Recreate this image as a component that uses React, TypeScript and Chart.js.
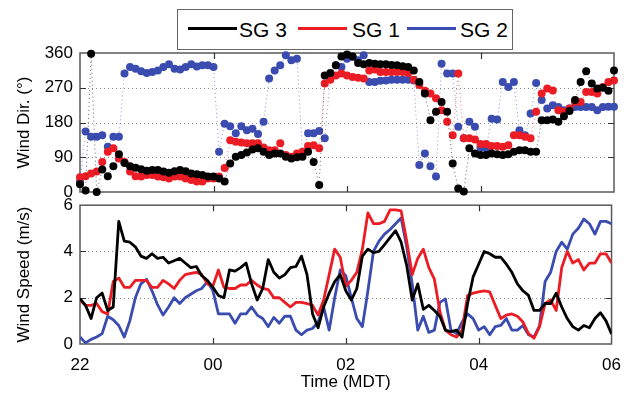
import React, { useEffect, useRef } from "react";
import { Chart, registerables } from "chart.js";

Chart.register(...registerables);

// ---------- data ----------
const STEP_MIN = 5; // sampling interval, minutes after 22:00 MDT
const X_TICK_LABELS = ["22", "00", "02", "04", "06"];
const SERIES_NAMES = ["SG 3", "SG 1", "SG 2"];
const SERIES_COLORS = ["#000000", "#ec1c24", "#3a4cb0"];
const DIR_TICKS = [0, 90, 180, 270, 360];
const SPEED_TICKS = [0, 2, 4, 6];

// Wind direction (deg)
const dirSG3 = [
  20, 4, 358, 0, 58, 41, 67, 98, 75, 67, 63, 59, 55, 57, 57, 53, 50, 54, 57, 54,
  48, 46, 44, 40, 40, 35, 27, 74, 91, 96, 102, 110, 113, 104, 96, 100, 100, 91, 87, 90,
  91, 104, 78, 18, 302, 308, 328, 351, 356, 351, 334, 331, 334, 332, 331, 331, 329, 328, 326, 324,
  315, 285, 255, 186, 208, 233, 208, 74, 9, 1, 113, 100, 96, 96, 100, 98, 96, 98, 104, 108,
  108, 104, 104, 186, 186, 188, 182, 196, 210, 238, 285, 313, 281, 268, 270, 262, 315,
];
const dirSG1 = [
  38, 41, 48, 53, 78, 104, 113, 87, 78, 53, 41, 40, 44, 44, 40, 38, 35, 40, 40, 35,
  31, 27, 27, 35, 35, 40, 62, 134, 130, 128, 126, 126, 126, 115, 108, 108, 126, 96, 91, 100,
  104, 119, 121, 113, 281, 291, 302, 307, 302, 298, 296, 294, 315, 317, 311, 311, 311, 311, 311, 308,
  291, 277, 262, 255, 243, 212, 182, 147, 307, 139, 139, 136, 124, 124, 119, 119, 117, 121, 147, 147,
  143, 139, 208, 255, 268, 263, 212, 208, 216, 233, 233, 259, 259, 255, 272, 285, 289,
];
const dirSG2 = [
  27, 157, 143, 143, 147, 117, 143, 143, 307, 324, 319, 313, 308, 311, 315, 324, 331, 319, 317, 324,
  331, 325, 328, 328, 324, 104, 177, 170, 152, 170, 160, 164, 150, 182, 294, 315, 328, 354, 341, 345,
  100, 152, 152, 158, 139, 298, 328, 324, 345, 350, 341, 354, 285, 285, 288, 289, 291, 291, 291, 291,
  289, 70, 100, 67, 40, 332, 307, 307, 169, 139, 182, 169, 115, 113, 190, 188, 285, 272, 285, 160,
  147, 203, 282, 238, 216, 225, 220, 212, 216, 220, 220, 220, 220, 212, 220, 221, 221,
];

// Wind speed (m/s)
const spdSG3 = [
  1.96, 1.67, 1.1, 2.0, 2.2, 1.45, 1.6, 5.3, 4.45, 4.4, 4.2, 3.8, 3.7, 3.9, 3.7, 3.75, 3.5, 3.6, 3.7, 3.5,
  3.3, 3.35, 2.95, 2.75, 2.45, 2.1, 2.0, 3.2, 3.15, 3.3, 3.5, 2.6, 1.9, 2.4, 3.65, 3.1, 2.85, 3.0, 3.3, 3.35,
  3.8, 3.0, 1.3, 0.7, 1.6, 2.2, 2.7, 3.0, 2.3, 1.9, 2.4, 3.8, 4.1, 3.95, 4.0, 4.3, 4.6, 4.9, 4.4, 3.4,
  1.9, 2.6, 1.5, 1.67, 1.45, 1.2, 0.6, 0.53, 0.6, 0.3, 1.75, 2.9, 3.45, 4.0, 3.9, 3.75, 3.75, 3.45, 3.1, 2.6,
  2.3, 2.1, 1.45, 1.45, 1.75, 1.75, 2.2, 1.6, 1.1, 0.75, 0.6, 0.8, 0.7, 1.1, 1.35, 1.0, 0.43,
];
const spdSG1 = [
  1.9, 1.67, 1.67, 1.75, 1.4, 1.3, 2.7, 2.85, 2.45, 2.45, 2.75, 2.75, 2.75, 2.45, 2.45, 2.75, 2.6, 2.4, 2.75, 3.0,
  3.05, 3.1, 3.0, 2.6, 2.5, 3.2, 2.45, 2.4, 2.4, 2.55, 2.55, 2.75, 2.55, 2.4, 2.35, 2.0, 2.0, 1.8, 1.6, 1.8,
  1.8, 1.75, 1.67, 1.25, 1.9, 3.0, 4.1, 3.75, 2.5, 2.75, 3.1, 4.1, 5.67, 5.2, 5.2, 5.3, 5.8, 5.8, 5.75, 4.45,
  3.0, 3.7, 4.1, 3.3, 2.8, 1.4, 0.6, 0.4, 0.3, 0.6, 2.1, 2.2, 2.25, 2.3, 2.25, 1.67, 1.1, 1.25, 1.3, 1.2,
  0.95, 0.45, 0.25, 0.75, 1.75, 1.9, 1.45, 3.3, 4.0, 3.5, 3.65, 3.2, 3.5, 3.5, 3.9, 3.9, 3.5,
];
const spdSG2 = [
  0.3, 0.05, 0.2, 0.3, 0.45, 1.2, 1.05, 0.8, 0.3, 1.0, 2.0, 2.6, 2.8, 2.3, 1.7, 1.25, 1.6, 2.0, 1.75, 2.0,
  2.15, 2.3, 2.4, 2.7, 2.3, 1.3, 1.3, 1.3, 0.9, 1.3, 1.3, 1.6, 1.25, 1.1, 0.75, 1.15, 0.9, 1.2, 1.2, 0.6,
  0.4, 0.6, 0.67, 0.95, 1.6, 0.6, 2.0, 3.2, 2.95, 2.0, 1.1, 0.75, 2.3, 4.0, 4.45, 4.75, 4.95, 5.2, 5.45, 4.2,
  2.6, 0.6, 1.2, 0.5, 0.6, 1.8, 1.95, 0.6, 0.45, 0.95, 1.3, 1.1, 0.6, 0.75, 0.4, 0.75, 0.8, 1.1, 0.6, 0.6,
  0.8, 0.4, 0.3, 0.8, 2.7, 3.1, 4.0, 4.4, 4.1, 4.75, 5.0, 5.4, 5.2, 4.75, 5.3, 5.3, 5.2,
];

const HOURS = dirSG3.map((_, i) => (i * STEP_MIN) / 60); // hours after 22:00
const DIR_SERIES = [dirSG3, dirSG1, dirSG2];
const SPEED_SERIES = [spdSG3, spdSG1, spdSG2];

// ---------- style ----------
const FONT = "'Liberation Sans', Arial, Helvetica, sans-serif";
const W = 632;

function hexA(hex: string, a: number) {
  const n = parseInt(hex.slice(1), 16);
  return `rgba(${(n >> 16) & 255},${(n >> 8) & 255},${n & 255},${a})`;
}

const framePlugin = {
  id: "matlabFrame",
  beforeDatasetsDraw(chart: any, _args: any, opts: any) {
    const { ctx, chartArea: a, scales } = chart;
    ctx.save();
    // dotted horizontal grid
    ctx.strokeStyle = "#8a8a8a";
    ctx.lineWidth = 1;
    ctx.setLineDash([1, 3]);
    for (const v of opts.yTicks as number[]) {
      if (v === scales.y.min || v === scales.y.max) continue;
      const y = Math.round(scales.y.getPixelForValue(v)) + 0.5;
      ctx.beginPath();
      ctx.moveTo(a.left, y);
      ctx.lineTo(a.right, y);
      ctx.stroke();
    }
    ctx.setLineDash([]);
    // frame
    ctx.strokeStyle = "#5a5a5a";
    ctx.lineWidth = 1.5;
    ctx.strokeRect(a.left, a.top, a.right - a.left, a.bottom - a.top);
    // inward ticks
    ctx.strokeStyle = "#333";
    ctx.lineWidth = 1.2;
    const L = 6;
    for (let v = 2; v < 8; v += 2) {
      const x = Math.round(scales.x.getPixelForValue(v)) + 0.5;
      ctx.beginPath();
      ctx.moveTo(x, a.bottom);
      ctx.lineTo(x, a.bottom - L);
      ctx.moveTo(x, a.top);
      ctx.lineTo(x, a.top + L);
      ctx.stroke();
    }
    for (const v of opts.yTicks as number[]) {
      if (v === scales.y.min || v === scales.y.max) continue;
      const y = Math.round(scales.y.getPixelForValue(v)) + 0.5;
      ctx.beginPath();
      ctx.moveTo(a.left, y);
      ctx.lineTo(a.left + L, y);
      ctx.moveTo(a.right, y);
      ctx.lineTo(a.right - L, y);
      ctx.stroke();
    }
    ctx.restore();
  },
};

function xScale(showLabels: boolean, height: number) {
  return {
    type: "linear" as const,
    min: 0,
    max: 8,
    ticks: {
      display: showLabels,
      stepSize: 2,
      padding: 11,
      color: "#000",
      font: { family: FONT, size: 17 },
      maxRotation: 0,
      autoSkip: false,
      callback: (v: any) => X_TICK_LABELS[Math.round(Number(v) / 2)] ?? "",
    },
    grid: { display: false, drawTicks: false },
    border: { display: false },
    title: {
      display: showLabels,
      text: "Time (MDT)",
      color: "#000",
      font: { family: FONT, size: 17 },
      padding: { top: 0, bottom: 1 },
    },
    afterFit: (s: any) => {
      s.height = height;
    },
  };
}

function yScale(ticks: number[], title: string) {
  return {
    type: "linear" as const,
    min: ticks[0],
    max: ticks[ticks.length - 1],
    afterBuildTicks: (s: any) => {
      s.ticks = ticks.map((v) => ({ value: v }));
    },
    ticks: {
      padding: 7,
      color: "#000",
      font: { family: FONT, size: 17 },
      callback: (v: any) => String(v),
    },
    grid: { display: false, drawTicks: false },
    border: { display: false },
    title: {
      display: true,
      text: title,
      color: "#000",
      font: { family: FONT, size: 17 },
      padding: { top: 14, bottom: 0 },
    },
    afterFit: (s: any) => {
      s.width = 80;
    },
  };
}

export default function App() {
  const topRef = useRef<HTMLCanvasElement>(null);
  const botRef = useRef<HTMLCanvasElement>(null);

  useEffect(() => {
    document.body.style.margin = "0";
    const top = new Chart(topRef.current!, {
      type: "line",
      data: {
        datasets: DIR_SERIES.map((arr, k) => ({
          label: SERIES_NAMES[k],
          data: arr.map((v, i) => ({ x: HOURS[i], y: v })),
          showLine: true,
          borderColor: hexA(SERIES_COLORS[k], 0.6),
          borderWidth: 1,
          borderDash: [1, 3],
          backgroundColor: SERIES_COLORS[k],
          pointBackgroundColor: SERIES_COLORS[k],
          pointBorderWidth: 0,
          pointRadius: 4,
          tension: 0,
          clip: false as any,
        })),
      },
      options: {
        animation: false,
        responsive: false,
        devicePixelRatio: 1,
        layout: { padding: { top: 53, right: 18, left: 0, bottom: 0 } },
        plugins: {
          legend: { display: false },
          tooltip: { enabled: false },
          matlabFrame: { yTicks: DIR_TICKS },
        } as any,
        scales: {
          x: xScale(false, 18) as any,
          y: yScale(DIR_TICKS, "Wind Dir. (°)") as any,
        },
      },
      plugins: [framePlugin],
    });

    const bot = new Chart(botRef.current!, {
      type: "line",
      data: {
        datasets: SPEED_SERIES.map((arr, k) => ({
          label: SERIES_NAMES[k],
          data: arr.map((v, i) => ({ x: HOURS[i], y: v })),
          borderColor: SERIES_COLORS[k],
          backgroundColor: SERIES_COLORS[k],
          borderWidth: 2.8,
          pointRadius: 0,
          tension: 0,
          borderJoinStyle: "round" as const,
        })),
      },
      options: {
        animation: false,
        responsive: false,
        devicePixelRatio: 1,
        layout: { padding: { top: 16, right: 18, left: 0, bottom: 0 } },
        plugins: {
          legend: { display: false },
          tooltip: { enabled: false },
          matlabFrame: { yTicks: SPEED_TICKS },
        } as any,
        scales: {
          x: xScale(true, 50) as any,
          y: yScale(SPEED_TICKS, "Wind Speed (m/s)") as any,
        },
      },
      plugins: [framePlugin],
    });

    return () => {
      top.destroy();
      bot.destroy();
    };
  }, []);

  const legendLine = (left: number, color: string) => (
    <div
      style={{
        position: "absolute",
        left,
        top: 27,
        width: 49,
        height: 3,
        background: color,
      }}
    />
  );
  const legendText = (left: number, text: string) => (
    <span
      style={{
        position: "absolute",
        left,
        top: 19,
        fontFamily: FONT,
        fontSize: 21,
        lineHeight: "21px",
        color: "#000",
        whiteSpace: "nowrap",
      }}
    >
      {text}
    </span>
  );

  return (
    <div
      style={{
        position: "absolute",
        left: 0,
        top: 0,
        width: W,
        height: 394,
        background: "#fff",
        overflow: "hidden",
      }}
    >
      <canvas
        ref={botRef}
        width={W}
        height={206}
        style={{ position: "absolute", left: 0, top: 188, display: "block" }}
      />
      <canvas
        ref={topRef}
        width={W}
        height={210}
        style={{ position: "absolute", left: 0, top: 0, display: "block" }}
      />
      <div
        style={{
          position: "absolute",
          left: 177,
          top: 9,
          width: 336,
          height: 41,
          boxSizing: "border-box",
          border: "1.5px solid #666",
          background: "#fff",
        }}
      />
      {legendLine(188, SERIES_COLORS[0])}
      {legendText(239, SERIES_NAMES[0])}
      {legendLine(298, SERIES_COLORS[1])}
      {legendText(352, SERIES_NAMES[1])}
      {legendLine(407, SERIES_COLORS[2])}
      {legendText(460, SERIES_NAMES[2])}
    </div>
  );
}
